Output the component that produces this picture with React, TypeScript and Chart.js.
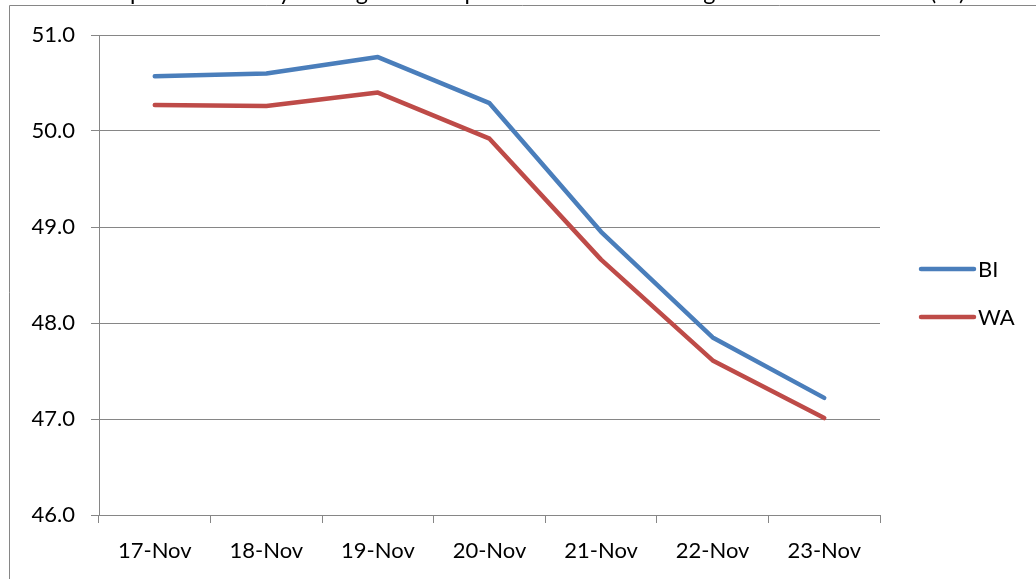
import React, { useEffect, useRef } from "react";
import { Chart, registerables } from "chart.js";

Chart.register(...registerables);

// ---- data ----
const categories = ["17-Nov", "18-Nov", "19-Nov", "20-Nov", "21-Nov", "22-Nov", "23-Nov"];
const biValues = [50.57, 50.6, 50.77, 50.29, 48.95, 47.85, 47.22];
const waValues = [50.27, 50.26, 50.4, 49.92, 48.66, 47.61, 47.01];
const yTicks = [46, 47, 48, 49, 50, 51];
const seriesNames = ["BI", "WA"];
const seriesColors = ["#4A7EBB", "#BE4B48"];
const titleText = "Comparison of Daily Average Air Temperature at Two Buildings in November 2013 (°F)";

const FONT = "Lato, 'Open Sans', sans-serif";
const GRID = "#868686";

const framePlugin = {
  id: "frame",
  afterDraw(chart: any) {
    const ctx = chart.ctx as CanvasRenderingContext2D;
    ctx.save();
    // outer chart-box border (cut by the picture's edges)
    ctx.strokeStyle = GRID;
    ctx.lineWidth = 1;
    ctx.beginPath();
    ctx.moveTo(9.5, chart.height);
    ctx.lineTo(9.5, 5.5);
    ctx.lineTo(chart.width, 5.5);
    ctx.stroke();

    // title, mostly cut off by the top edge
    ctx.font = "100px " + FONT;
    const iP = titleText.indexOf("p");
    const iParen = titleText.indexOf("(");
    const a = ctx.measureText(titleText.slice(0, iP)).width / 100 + 0.08;
    const b = ctx.measureText(titleText.slice(0, iParen)).width / 100 + 0.12;
    const s = (933 - 132) / (b - a);
    const x0 = 132 - s * a;
    ctx.font = `${s}px ${FONT}`;
    ctx.fillStyle = "#000";
    ctx.textAlign = "left";
    ctx.textBaseline = "alphabetic";
    ctx.fillText(titleText, x0, 4 - 0.19 * s);

    // legend
    ctx.font = `22px ${FONT}`;
    ctx.textBaseline = "middle";
    chart.data.datasets.forEach((ds: any, i: number) => {
      const y = 269 + i * 48;
      ctx.strokeStyle = ds.borderColor;
      ctx.lineWidth = 4.5;
      ctx.lineCap = "round";
      ctx.beginPath();
      ctx.moveTo(921, y);
      ctx.lineTo(974, y);
      ctx.stroke();
      ctx.fillStyle = "#000";
      ctx.fillText(ds.label, 978, y + 1);
    });
    ctx.restore();
  },
};

export default function App() {
  const ref = useRef<HTMLCanvasElement>(null);
  useEffect(() => {
    const chart = new Chart(ref.current!, {
      type: "line",
      data: {
        labels: categories,
        datasets: [biValues, waValues].map((vals, i) => ({
          label: seriesNames[i],
          data: vals,
          borderColor: seriesColors[i],
          backgroundColor: seriesColors[i],
          borderWidth: 4.5,
          pointRadius: 0,
          tension: 0,
          borderCapStyle: "round" as const,
          borderJoinStyle: "round" as const,
          fill: false,
        })),
      },
      options: {
        responsive: false,
        animation: false,
        layout: { padding: { top: 35, right: 156, bottom: 0, left: 0 } },
        plugins: {
          legend: { display: false },
          title: { display: false },
          tooltip: { enabled: false },
        },
        scales: {
          x: {
            type: "category",
            offset: true,
            afterFit: (s: any) => {
              s.height = 64;
            },
            grid: {
              offset: true,
              drawOnChartArea: false,
              drawTicks: true,
              tickLength: 8,
              color: GRID,
              lineWidth: 1,
            },
            border: { display: true, color: GRID, width: 1 },
            ticks: {
              color: "#000",
              font: { family: FONT, size: 22 },
              padding: 15,
              maxRotation: 0,
              autoSkip: false,
            },
          },
          y: {
            min: 46,
            max: 51,
            afterFit: (s: any) => {
              s.width = 99;
            },
            afterBuildTicks: (s: any) => {
              s.ticks = yTicks.map((v) => ({ value: v }));
            },
            grid: {
              drawTicks: true,
              tickLength: 8,
              color: GRID,
              lineWidth: 1,
            },
            border: { display: true, color: GRID, width: 1 },
            ticks: {
              color: "#000",
              font: { family: FONT, size: 22 },
              padding: 16,
              callback: (v: any) => Number(v).toFixed(1),
            },
          },
        },
      },
      plugins: [framePlugin],
    });
    return () => chart.destroy();
  }, []);

  return (
    <div
      style={{
        position: "absolute",
        left: 0,
        top: 0,
        width: 1036,
        height: 579,
        overflow: "hidden",
        background: "#fff",
      }}
    >
      <canvas ref={ref} width={1036} height={579} style={{ display: "block" }} />
    </div>
  );
}
